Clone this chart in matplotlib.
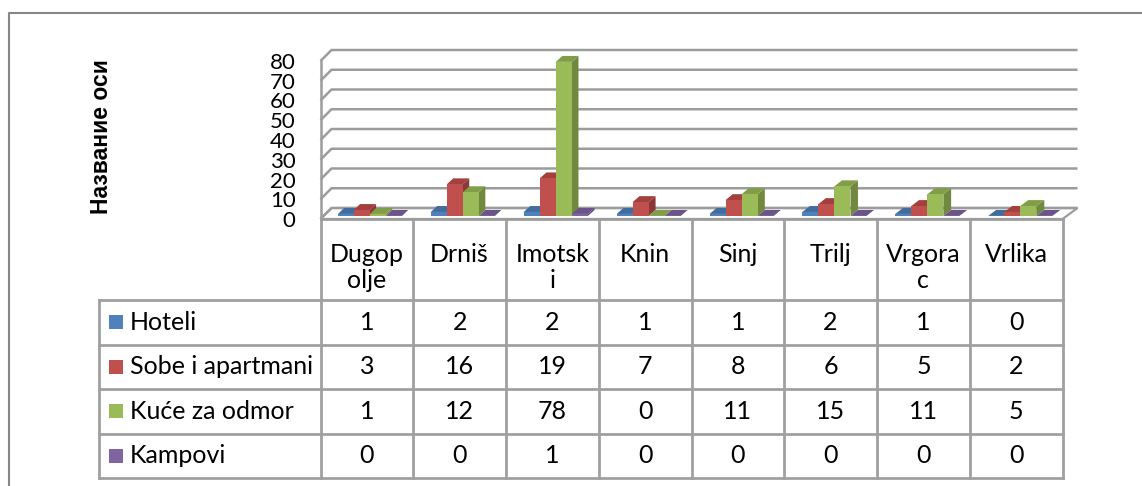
import matplotlib
matplotlib.use("Agg")
import matplotlib.pyplot as plt
from matplotlib.patches import Polygon, Rectangle

# ---------------- data ----------------
categories = ["Dugopolje", "Drniš", "Imotski", "Knin", "Sinj", "Trilj", "Vrgorac", "Vrlika"]
category_labels = ["Dugop\nolje", "Drniš", "Imotsk\ni", "Knin", "Sinj", "Trilj", "Vrgora\nc", "Vrlika"]
series_names = ["Hoteli", "Sobe i apartmani", "Kuće za odmor", "Kampovi"]
hoteli = [1, 2, 2, 1, 1, 2, 1, 0]
sobe = [3, 16, 19, 7, 8, 6, 5, 2]
kuce = [1, 12, 78, 0, 11, 15, 11, 5]
kampovi = [0, 0, 1, 0, 0, 0, 0, 0]
series_values = [hoteli, sobe, kuce, kampovi]
y_ticks = [0, 10, 20, 30, 40, 50, 60, 70, 80]
axis_title = "Название оси"

colors = ["#4F81BD", "#C0504D", "#9BBB59", "#8064A2"]
side_colors = ["#385D8A", "#8C3836", "#71893F", "#5C4776"]
top_colors = ["#416C9E", "#A33F3C", "#819D47", "#6B5489"]

TXT = "Lato"
FS = 18
W, H = 1142, 486
fig = plt.figure(figsize=(W / 100, H / 100), dpi=100)

# background / table axes in pixel space
tab = fig.add_axes([0, 0, 1, 1])
tab.set_xlim(0, W)
tab.set_ylim(H, 0)
tab.axis("off")

# chart front-plane geometry (pixels)
x_cat0, x_cat1 = 320.5, 1062.5
y_zero, y_top = 219.0, 61.0
n = len(categories)
col_w = (x_cat1 - x_cat0) / n
px_per_val = (y_zero - y_top) / 80.0

ax = fig.add_axes([x_cat0 / W, (H - y_zero) / H, (x_cat1 - x_cat0) / W, (y_zero - y_top) / H])
ax.set_xlim(0, n)
ax.set_ylim(0, 80)
for sp in ax.spines.values():
    sp.set_visible(False)
ax.set_xticks([])
ax.set_yticks(y_ticks)
ax.set_yticklabels([str(t) for t in y_ticks], fontfamily=TXT, fontsize=16)
ax.tick_params(axis="y", length=0, pad=18)
ax.patch.set_alpha(0)

depth_dy = 11.0 / px_per_val  # value units


def proj(x, v, d):
    dxp = 11.0 + 4.0 * x / n
    return (x + d * dxp / col_w, v + d * depth_dy)


grid_c = "#9C9C9C"
# floor
floor = Polygon([proj(0, 0, 0), proj(n, 0, 0), proj(n, 0, 1), proj(0, 0, 1)],
                closed=True, facecolor="white", edgecolor=grid_c, lw=1.6, zorder=1, clip_on=False)
ax.add_patch(floor)
# gridlines / walls
for v in y_ticks:
    p0, p1, p2 = proj(0, v, 0), proj(0, v, 1), proj(n, v, 1)
    ax.plot([p0[0], p1[0], p2[0]], [p0[1], p1[1], p2[1]], color=grid_c, lw=1.8,
            zorder=2, clip_on=False, solid_capstyle="butt")
ax.plot([0, 0], [0, 80], color=grid_c, lw=1.8, zorder=2, clip_on=False)

# bars
w = 0.1725
d0, d1 = 0.28, 0.82
z = 3
for i in range(n):
    for s, vals in enumerate(series_values):
        v = vals[i]
        x0 = i + (1 - 4 * w) / 2 + s * w
        fx0, fy0 = proj(x0, 0, d0)
        fx1, _ = proj(x0 + w, 0, d0)
        ax.bar(fx0, v, width=fx1 - fx0, bottom=fy0, align="edge", color=colors[s],
               edgecolor="none", zorder=z + 0.2, clip_on=False)
        top = Polygon([proj(x0, v, d0), proj(x0 + w, v, d0), proj(x0 + w, v, d1), proj(x0, v, d1)],
                      closed=True, facecolor=top_colors[s], edgecolor="none", zorder=z + 0.1, clip_on=False)
        side = Polygon([proj(x0 + w, 0, d0), proj(x0 + w, v, d0), proj(x0 + w, v, d1), proj(x0 + w, 0, d1)],
                       closed=True, facecolor=side_colors[s], edgecolor="none", zorder=z, clip_on=False)
        ax.add_patch(top)
        ax.add_patch(side)
        z += 1

# axis title
fig.text(101 / W, 1 - 137 / H, axis_title, rotation=90, ha="center", va="center",
         fontsize=16.5, fontweight="bold", family="Liberation Sans")

# ---------------- table ----------------
line_c = "#A0A0A0"
x_left = 99.0
y_head_bot = 300.0
row_h = 44.5
n_rows = len(series_names)
y_rows = [y_head_bot + k * row_h for k in range(n_rows + 1)]
col_x = [x_cat0 + k * col_w for k in range(n + 1)]

tab.plot([x_cat0, x_cat1], [y_zero, y_zero], color=line_c, lw=2)
for y in y_rows:
    tab.plot([x_left, x_cat1], [y, y], color=line_c, lw=2)
tab.plot([x_left, x_left], [y_head_bot, y_rows[-1]], color=line_c, lw=2)
for x in col_x:
    tab.plot([x, x], [y_zero, y_rows[-1]], color=line_c, lw=2)

for k, lab in enumerate(category_labels):
    tab.text(x_cat0 + (k + 0.5) * col_w, 243, lab, ha="center", va="top",
             fontsize=FS, family=TXT, linespacing=1.15)

for r, name in enumerate(series_names):
    yc = (y_rows[r] + y_rows[r + 1]) / 2
    tab.add_patch(Rectangle((109, yc - 7), 14, 14, facecolor=colors[r], edgecolor="none"))
    tab.text(130, yc, name, ha="left", va="center", fontsize=FS, family=TXT)
    for k in range(n):
        tab.text(x_cat0 + (k + 0.5) * col_w, yc, str(series_values[r][k]), ha="center",
                 va="center", fontsize=FS, family=TXT)

# outer chart frame
tab.plot([9, 9, W + 5], [H + 5, 13, 13], color="#878787", lw=1.5, clip_on=False)

fig.savefig("out.png", dpi=100)
